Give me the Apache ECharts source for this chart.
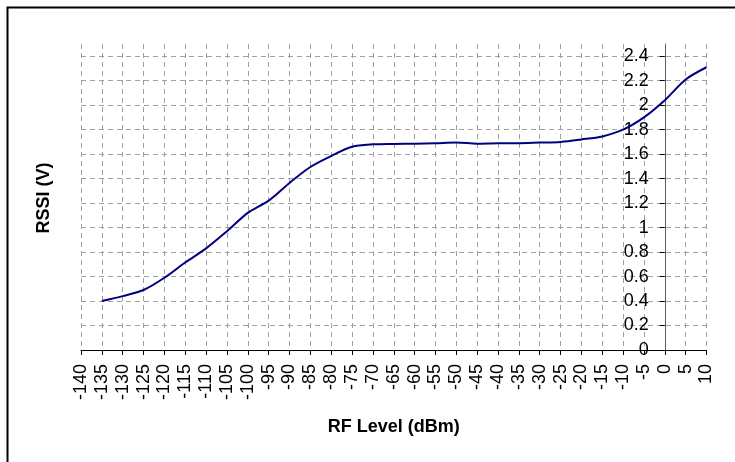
<!DOCTYPE html>
<html>
<head>
<meta charset="utf-8">
<script src="https://cdn.jsdelivr.net/npm/echarts@6/dist/echarts.min.js"></script>
<style>
html,body{margin:0;padding:0;background:#fff;}
#chart{width:735px;height:462px;}
</style>
</head>
<body>
<div id="chart"></div>
<script>
// Data
const rfLevel = [-135,-130,-125,-120,-115,-110,-105,-100,-95,-90,-85,-80,-75,-70,-65,-60,-55,-50,-45,-40,-35,-30,-25,-20,-15,-10,-5,0,5,10];
const rssi = [0.40,0.44,0.49,0.59,0.715,0.83,0.97,1.12,1.22,1.365,1.495,1.585,1.66,1.68,1.684,1.686,1.69,1.695,1.686,1.69,1.69,1.695,1.70,1.72,1.745,1.80,1.90,2.04,2.21,2.31];
const yTickValues = [0,0.2,0.4,0.6,0.8,1,1.2,1.4,1.6,1.8,2,2.2,2.4];
const xMin = -140, xMax = 10, yCross = 0;
const xAxisTitle = 'RF Level (dBm)';
const yAxisTitle = 'RSSI (V)';

const gridLeft = 81, gridRight = 28.5, chartWidth = 735;
const plotWidth = chartWidth - gridLeft - gridRight;
// y axis crosses the x axis at x = 0 (Excel style)
const yAxisOffset = -plotWidth * (yCross - xMin) / (xMax - xMin);

const chart = echarts.init(document.getElementById('chart'), null, {renderer:'canvas'});
const gridColor = '#a0a0a0';
const ySplitColors = yTickValues.map(() => gridColor).concat(['rgba(0,0,0,0)']);

chart.setOption({
  animation:false,
  backgroundColor:'#fff',
  grid:{left:gridLeft, right:gridRight, top:44, bottom:112, outerBoundsMode:'none', containLabel:false},
  xAxis:{
    type:'value', min:xMin, max:xMax, interval:5,
    axisLine:{show:true, onZero:false, lineStyle:{color:'#000', width:1}},
    axisTick:{show:true, length:5, lineStyle:{color:'#000'}},
    axisLabel:{rotate:90, margin:14, fontSize:18, color:'#000', fontFamily:'Liberation Sans, Arial, sans-serif'},
    splitLine:{show:true, lineStyle:{color:gridColor, type:[5,4], width:1}},
    name:xAxisTitle, nameLocation:'middle', nameGap:68,
    nameTextStyle:{fontSize:18, fontWeight:'bold', color:'#000', fontFamily:'Liberation Sans, Arial, sans-serif'}
  },
  yAxis:{
    type:'value', min:0, max:2.5, interval:0.2,
    position:'left', offset:yAxisOffset,
    axisLine:{show:true, onZero:false, lineStyle:{color:'#606060', width:1}},
    axisTick:{show:true, length:5, customValues:yTickValues, lineStyle:{color:'#000'}},
    axisLabel:{margin:16, fontSize:18, color:'#000', customValues:yTickValues, fontFamily:'Liberation Sans, Arial, sans-serif'},
    splitLine:{show:true, lineStyle:{color:ySplitColors, type:[5,4], width:1}}
  },
  graphic:[
    {type:'rect', left:5, top:5, shape:{width:760, height:490}, style:{fill:'none', stroke:'#000', lineWidth:2}, silent:true},
    {type:'text', x:44, y:198, rotation:Math.PI/2, style:{text:yAxisTitle, fontSize:18, fontWeight:'bold', fill:'#000', fontFamily:'Liberation Sans, Arial, sans-serif', align:'center', verticalAlign:'middle'}}
  ],
  series:[{
    type:'line',
    data:rfLevel.map((x,i)=>[x, rssi[i]]),
    smooth:0.3,
    showSymbol:false,
    lineStyle:{color:'#000080', width:2},
    itemStyle:{color:'#000080'}
  }]
});
</script>
</body>
</html>
